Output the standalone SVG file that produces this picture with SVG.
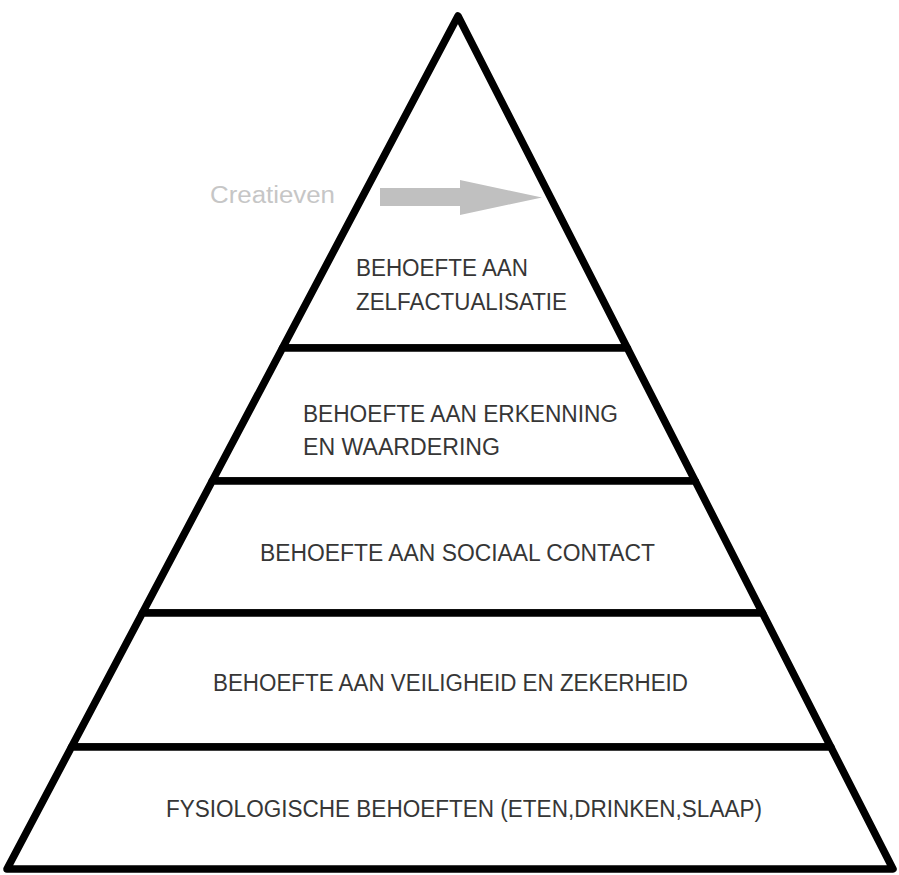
<svg xmlns="http://www.w3.org/2000/svg" width="899" height="875" viewBox="0 0 899 875">
  <style>
    .tier { fill: #ffffff; stroke: #000000; stroke-width: 7.5; stroke-linejoin: round; }
    .lbl { font-family: "Liberation Sans", Arial, sans-serif; font-size: 23px; fill: #363636; }
    .note { font-family: "Liberation Sans", Arial, sans-serif; font-size: 23px; fill: #c6c6c6; }
    .arrow { fill: #c0c0c0; }
  </style>
  <rect x="0" y="0" width="899" height="875" fill="#ffffff"/>
  <g id="level-5-zelfactualisatie">
    <polygon class="tier" points="458,16 627.3,348 282.5,348"/>
    <text class="lbl" x="356" y="276" textLength="172" lengthAdjust="spacingAndGlyphs">BEHOEFTE AAN</text>
    <text class="lbl" x="356" y="310" textLength="211" lengthAdjust="spacingAndGlyphs">ZELFACTUALISATIE</text>
  </g>
  <g id="level-4-erkenning">
    <polygon class="tier" points="282.5,348 627.3,348 695.2,481 212.2,481"/>
    <text class="lbl" x="303" y="422" textLength="315" lengthAdjust="spacingAndGlyphs">BEHOEFTE AAN ERKENNING</text>
    <text class="lbl" x="303" y="455" textLength="197" lengthAdjust="spacingAndGlyphs">EN WAARDERING</text>
  </g>
  <g id="level-3-sociaal">
    <polygon class="tier" points="212.2,481 695.2,481 762.5,613 142.4,613"/>
    <text class="lbl" x="260" y="561" textLength="395" lengthAdjust="spacingAndGlyphs">BEHOEFTE AAN SOCIAAL CONTACT</text>
  </g>
  <g id="level-2-veiligheid">
    <polygon class="tier" points="142.4,613 762.5,613 830.8,747 71.5,747"/>
    <text class="lbl" x="213" y="691" textLength="475" lengthAdjust="spacingAndGlyphs">BEHOEFTE AAN VEILIGHEID EN ZEKERHEID</text>
  </g>
  <g id="level-1-fysiologisch">
    <polygon class="tier" points="71.5,747 830.8,747 893,869 7,869"/>
    <text class="lbl" x="166" y="817" textLength="596" lengthAdjust="spacingAndGlyphs">FYSIOLOGISCHE BEHOEFTEN (ETEN,DRINKEN,SLAAP)</text>
  </g>
  <g id="creatieven">
    <text class="note" x="210" y="203" textLength="125" lengthAdjust="spacingAndGlyphs">Creatieven</text>
  </g>
  <g id="connectors">
    <polygon class="arrow" points="380,188 460,188 460,180 542,197.5 460,215 460,206 380,206"/>
  </g>
</svg>
